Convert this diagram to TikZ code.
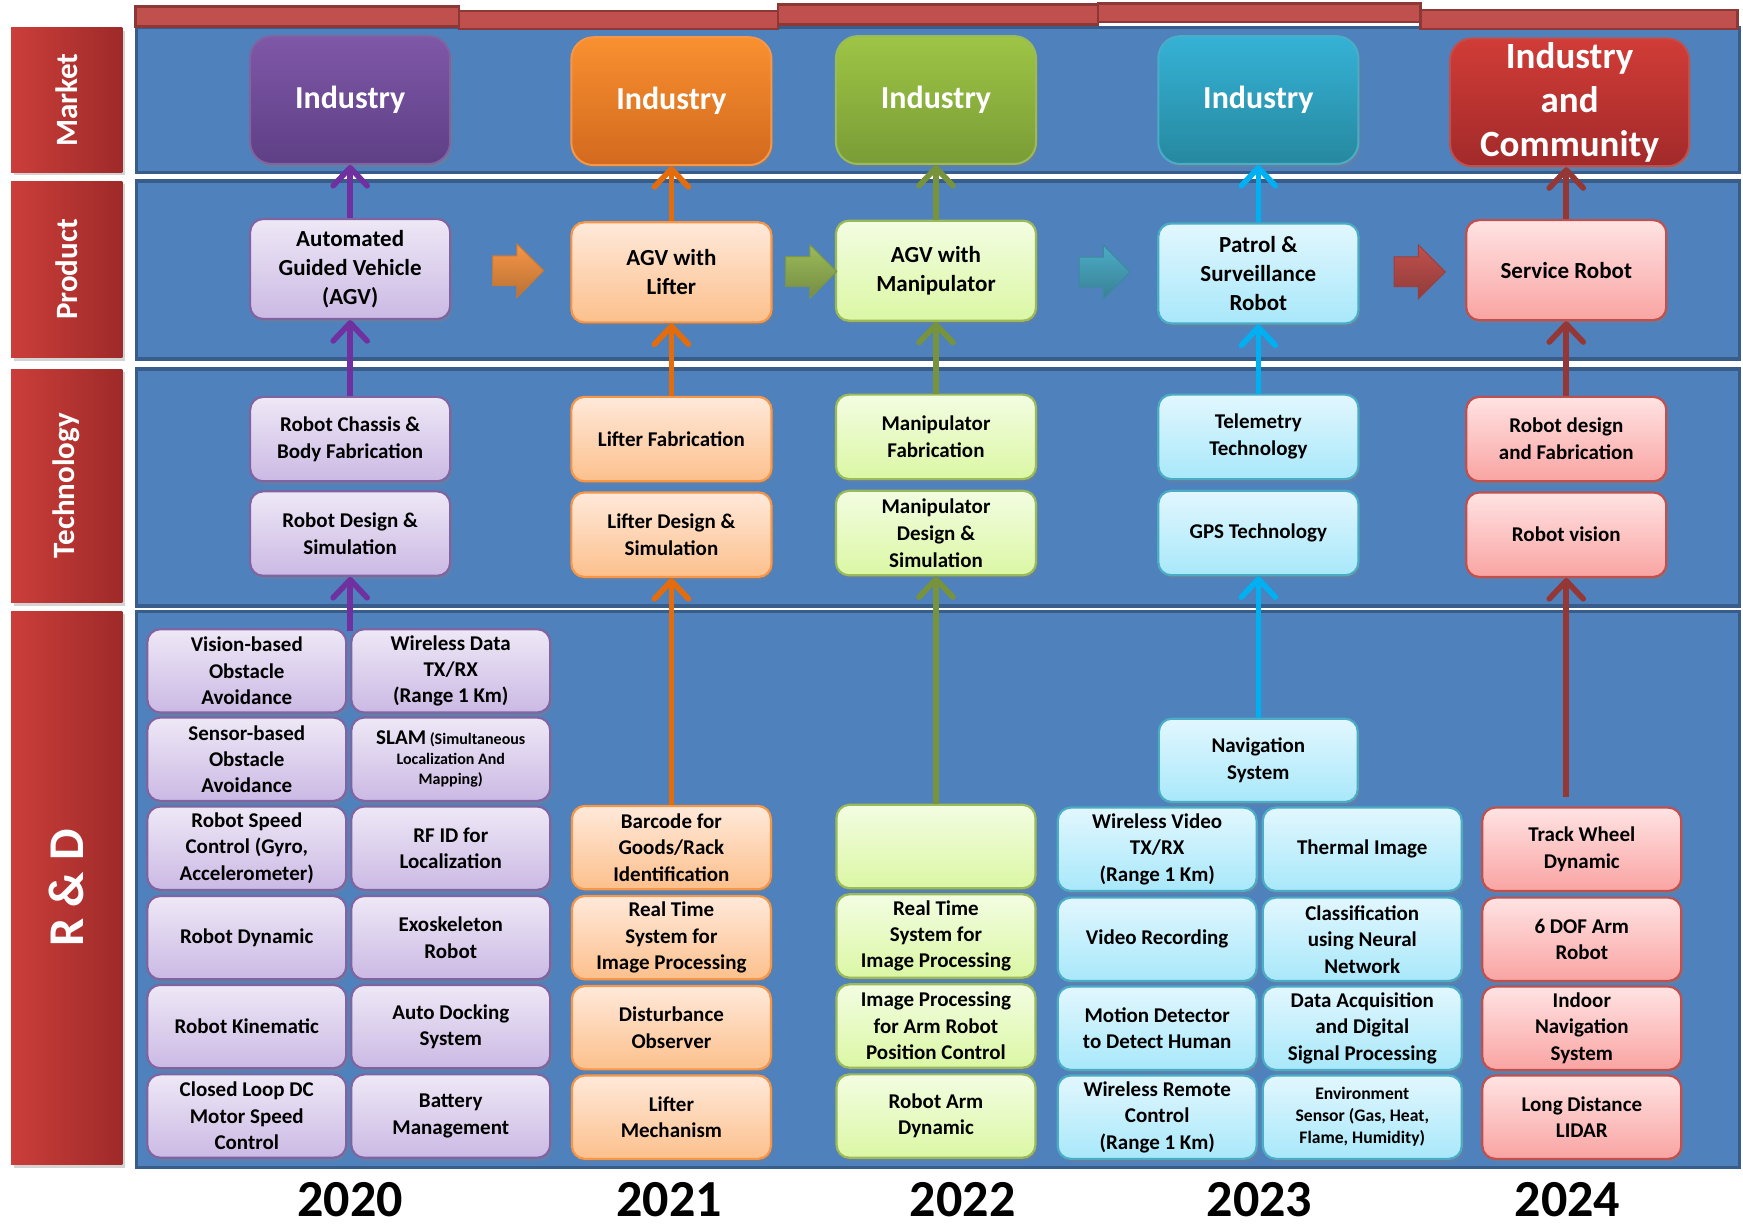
\documentclass[tikz,border=0pt]{standalone}
\usepackage{fontspec}
\usepackage{graphicx}
\setmainfont{Carlito}
\usetikzlibrary{arrows.meta,shapes.arrows,shadows,calc}

\definecolor{panelfill}{HTML}{4F81BD}
\definecolor{paneldraw}{HTML}{385D8A}
\definecolor{sideL}{HTML}{CB3E3A}
\definecolor{sideR}{HTML}{9E2A29}
\definecolor{barfill}{HTML}{C0504D}
\definecolor{bardraw}{HTML}{8C3836}
\definecolor{pplline}{HTML}{8064A2}
\definecolor{pplmt}{HTML}{7F58A8}
\definecolor{pplmb}{HTML}{5E3F85}
\definecolor{pplt}{HTML}{EEE8F6}
\definecolor{pplb}{HTML}{CBB9E4}
\definecolor{pplarr}{HTML}{7030A0}
\definecolor{orgline}{HTML}{F79646}
\definecolor{orgmt}{HTML}{F99030}
\definecolor{orgmb}{HTML}{D2691E}
\definecolor{orgt}{HTML}{FFE9DA}
\definecolor{orgb}{HTML}{FCC08C}
\definecolor{orgarr}{HTML}{E46C0A}
\definecolor{grnline}{HTML}{9BBB59}
\definecolor{grnmt}{HTML}{9DC545}
\definecolor{grnmb}{HTML}{7A9C36}
\definecolor{grnt}{HTML}{F3FDE2}
\definecolor{grnb}{HTML}{DBF7A4}
\definecolor{grnarr}{HTML}{77933C}
\definecolor{aquline}{HTML}{4BACC6}
\definecolor{aqumt}{HTML}{35B2D6}
\definecolor{aqumb}{HTML}{26889F}
\definecolor{aqut}{HTML}{E2F7FE}
\definecolor{aqub}{HTML}{A8E8FA}
\definecolor{aquarr}{HTML}{00B0F0}
\definecolor{redline}{HTML}{C0504D}
\definecolor{redmt}{HTML}{D13C37}
\definecolor{redmb}{HTML}{A22A2A}
\definecolor{redt}{HTML}{FFE3E3}
\definecolor{redb}{HTML}{F9A4A2}
\definecolor{redarr}{HTML}{953735}

\def\pxl{0.5556pt}

\tikzset{
  panel/.style={draw=paneldraw,line width=1.7pt,fill=panelfill},
  topbar/.style={draw=bardraw,line width=1.2pt,fill=barfill},
  sidelabel/.style={left color=sideL,right color=sideR,text=white,minimum width=100*\pxl,inner sep=0pt,
    font=\fontsize{15.5}{18}\selectfont\bfseries,drop shadow={opacity=.35,shadow xshift=1.5pt,shadow yshift=-1.5pt}},
  mkt/.style={rounded corners=11pt,draw=#1line,line width=1pt,top color=#1mt,bottom color=#1mb,text=white,
    minimum width=180*\pxl,minimum height=115*\pxl,align=center,inner sep=1pt,
    font=\fontsize{16}{19}\selectfont\bfseries,drop shadow={opacity=.4,shadow xshift=1pt,shadow yshift=-1.6pt}},
  cell/.style={rounded corners=6.5pt,draw=#1line,line width=1.1pt,top color=#1t,bottom color=#1b,
    align=center,inner sep=1pt,drop shadow={opacity=.35,shadow xshift=1pt,shadow yshift=-1.6pt}},
  prod/.style={cell=#1,minimum width=180*\pxl,minimum height=90*\pxl,font=\fontsize{11.5}{14.5}\selectfont\bfseries},
  tech/.style={cell=#1,minimum width=180*\pxl,minimum height=76*\pxl,font=\fontsize{10.5}{13.5}\selectfont\bfseries},
  rnd/.style={cell=#1,minimum width=179*\pxl,minimum height=75*\pxl,font=\fontsize{10.5}{13.2}\selectfont\bfseries},
  uparr/.style={draw=#1,line width=2.8pt,-{Straight Barb[length=9pt,width=17pt,round]}},
  nextarr/.style={single arrow,single arrow head extend=6pt,single arrow head indent=0pt,
    minimum height=46*\pxl,inner xsep=0pt,inner ysep=7.2pt,draw=#1line!80!black,line width=.5pt,
    top color=#1line,bottom color=#1line!75!black},
  year/.style={font=\fontsize{26}{30}\selectfont\bfseries,inner sep=1pt}
}

\begin{document}
\begin{tikzpicture}[x=\pxl,y=-\pxl]
\useasboundingbox (0,0) rectangle (1568,1105);

\draw[panel] (123,25) rectangle (1565,155);
\draw[panel] (123,163) rectangle (1565,323);
\draw[panel] (123,332) rectangle (1565,545);
\draw[panel] (123,550) rectangle (1565,1050);

\draw[topbar] (122,6) rectangle (413,24);
\draw[topbar] (413,10) rectangle (700,26);
\draw[topbar] (700,4) rectangle (988,22);
\draw[topbar] (988,3) rectangle (1278,20);
\draw[topbar] (1278,9) rectangle (1563,26);

\node[sidelabel,minimum height=130*\pxl] (lmkt) at (60,90) {\rotatebox{90}{Market}};
\node[sidelabel,minimum height=159*\pxl] (lprod) at (60,242.5) {\rotatebox{90}{Product}};
\node[sidelabel,minimum height=210*\pxl] (ltech) at (60,437) {\rotatebox{90}{Technology}};
\node[sidelabel,minimum height=498*\pxl] (lrnd) at (60,799) {\rotatebox{90}{\fontsize{25}{28}\selectfont R \& D}};

\node[mkt=ppl] (m1) at (315,90) {Industry};
\node[mkt=org] (m2) at (604,91) {Industry};
\node[mkt=grn] (m3) at (842,90) {Industry};
\node[mkt=aqu] (m4) at (1132,90) {Industry};
\node[mkt=red,minimum width=215*\pxl,font=\fontsize{18.5}{22}\selectfont\bfseries] (m5) at (1412,92) {Industry\\and\\Community};

\node[prod=ppl] (p1) at (315,242) {Automated\\Guided Vehicle\\(AGV)};
\node[prod=org] (p2) at (604,245) {AGV with\\Lifter};
\node[prod=grn] (p3) at (842,243.5) {AGV with\\Manipulator};
\node[prod=aqu] (p4) at (1132,246) {Patrol \&\\Surveillance\\Robot};
\node[prod=red] (p5) at (1409,243) {Service Robot};

\node[nextarr=org] (n1) at ($(p1.east)!.5!(p2.west)$) {};
\node[nextarr=grn] (n2) at ($(p2.east)!.5!(p3.west)$) {};
\node[nextarr=aqu] (n3) at ($(p3.east)!.5!(p4.west)$) {};
\node[nextarr=red] (n4) at ($(p4.east)!.5!(p5.west)$) {};

\node[tech=ppl] (t1a) at (315,395) {Robot Chassis \&\\Body Fabrication};
\node[tech=ppl] (t1b) at (315,480) {Robot Design \&\\Simulation};
\node[tech=org] (t2a) at (604,395) {Lifter Fabrication};
\node[tech=org] (t2b) at (604,481) {Lifter Design \&\\Simulation};
\node[tech=grn] (t3a) at (842,393) {Manipulator\\Fabrication};
\node[tech=grn] (t3b) at (842,479.5) {Manipulator\\Design \&\\Simulation};
\node[tech=aqu] (t4a) at (1132,393) {Telemetry\\Technology};
\node[tech=aqu] (t4b) at (1132,479.5) {GPS Technology};
\node[tech=red] (t5a) at (1409,395) {Robot design\\and Fabrication};
\node[tech=red] (t5b) at (1409,481) {Robot vision};

\node[rnd=ppl] (a1) at (222,603.5) {Vision-based\\Obstacle\\Avoidance};
\node[rnd=ppl] (a2) at (222,683) {Sensor-based\\Obstacle\\Avoidance};
\node[rnd=ppl] (a3) at (222,763) {Robot Speed\\Control (Gyro,\\Accelerometer)};
\node[rnd=ppl] (a4) at (222,843.5) {Robot Dynamic};
\node[rnd=ppl] (a5) at (222,923.5) {Robot Kinematic};
\node[rnd=ppl] (a6) at (222,1004) {Closed Loop DC\\Motor Speed\\Control};
\node[rnd=ppl] (b1) at (405.5,603.5) {Wireless Data\\TX/RX\\(Range 1 Km)};
\node[rnd=ppl,font=\fontsize{8}{10}\selectfont\bfseries] (b2) at (405.5,683) {{\fontsize{10.5}{13}\selectfont SLAM} (Simultaneous\\Localization And\\Mapping)};
\node[rnd=ppl] (b3) at (405.5,763) {RF ID for\\Localization};
\node[rnd=ppl] (b4) at (405.5,843.5) {Exoskeleton\\Robot};
\node[rnd=ppl] (b5) at (405.5,923.5) {Auto Docking\\System};
\node[rnd=ppl] (b6) at (405.5,1004) {Battery\\Management};

\node[rnd=org] (c1) at (604,762.5) {Barcode for\\Goods/Rack\\Identification};
\node[rnd=org] (c2) at (604,843.5) {Real Time\\System for\\Image Processing};
\node[rnd=org] (c3) at (604,924.5) {Disturbance\\Observer};
\node[rnd=org] (c4) at (604,1005) {Lifter\\Mechanism};

\node[rnd=grn] (d1) at (842,761.5) {};
\node[rnd=grn] (d2) at (842,842) {Real Time\\System for\\Image Processing};
\node[rnd=grn] (d3) at (842,923) {Image Processing\\for Arm Robot\\Position Control};
\node[rnd=grn] (d4) at (842,1004) {Robot Arm\\Dynamic};

\node[rnd=aqu] (nav) at (1132,684) {Navigation\\System};
\node[rnd=aqu] (e1) at (1041,764) {Wireless Video\\TX/RX\\(Range 1 Km)};
\node[rnd=aqu] (e2) at (1041,845) {Video Recording};
\node[rnd=aqu] (e3) at (1041,925) {Motion Detector\\to Detect Human};
\node[rnd=aqu] (e4) at (1041,1005) {Wireless Remote\\Control\\(Range 1 Km)};
\node[rnd=aqu] (f1) at (1225.5,764) {Thermal Image};
\node[rnd=aqu] (f2) at (1225.5,845) {Classification\\using Neural\\Network};
\node[rnd=aqu] (f3) at (1225.5,925) {Data Acquisition\\and Digital\\Signal Processing};
\node[rnd=aqu,font=\fontsize{8.8}{11}\selectfont\bfseries] (f4) at (1225.5,1005) {Environment\\Sensor (Gas, Heat,\\Flame, Humidity)};

\node[rnd=red] (g1) at (1423,764) {Track Wheel\\Dynamic};
\node[rnd=red] (g2) at (1423,845) {6 DOF Arm\\Robot};
\node[rnd=red] (g3) at (1423,925) {Indoor\\Navigation\\System};
\node[rnd=red] (g4) at (1423,1005) {Long Distance\\LIDAR};

\coordinate (s1) at (315,568);
\coordinate (s5) at (1409,717);

\draw[uparr=pplarr] (s1) -- (t1b.south);
\draw[uparr=pplarr] (t1a.north) -- (p1.south);
\draw[uparr=pplarr] (p1.north) -- (m1.south);
\draw[uparr=orgarr] (c1.north) -- (t2b.south);
\draw[uparr=orgarr] (t2a.north) -- (p2.south);
\draw[uparr=orgarr] (p2.north) -- (m2.south);
\draw[uparr=grnarr] (d1.north) -- (t3b.south);
\draw[uparr=grnarr] (t3a.north) -- (p3.south);
\draw[uparr=grnarr] (p3.north) -- (m3.south);
\draw[uparr=aquarr] (nav.north) -- (t4b.south);
\draw[uparr=aquarr] (t4a.north) -- (p4.south);
\draw[uparr=aquarr] (p4.north) -- (m4.south);
\draw[uparr=redarr] (s5) -- (t5b.south);
\draw[uparr=redarr] (t5a.north) -- (p5.south);
\draw[uparr=redarr] (p5.north) -- (p5.north |- m5.south);

\node[year] (y1) at (315,1079) {2020};
\node[year] (y2) at (602,1079) {2021};
\node[year] (y3) at (866,1079) {2022};
\node[year] (y4) at (1133,1079) {2023};
\node[year] (y5) at (1410,1079) {2024};
\end{tikzpicture}
\end{document}
